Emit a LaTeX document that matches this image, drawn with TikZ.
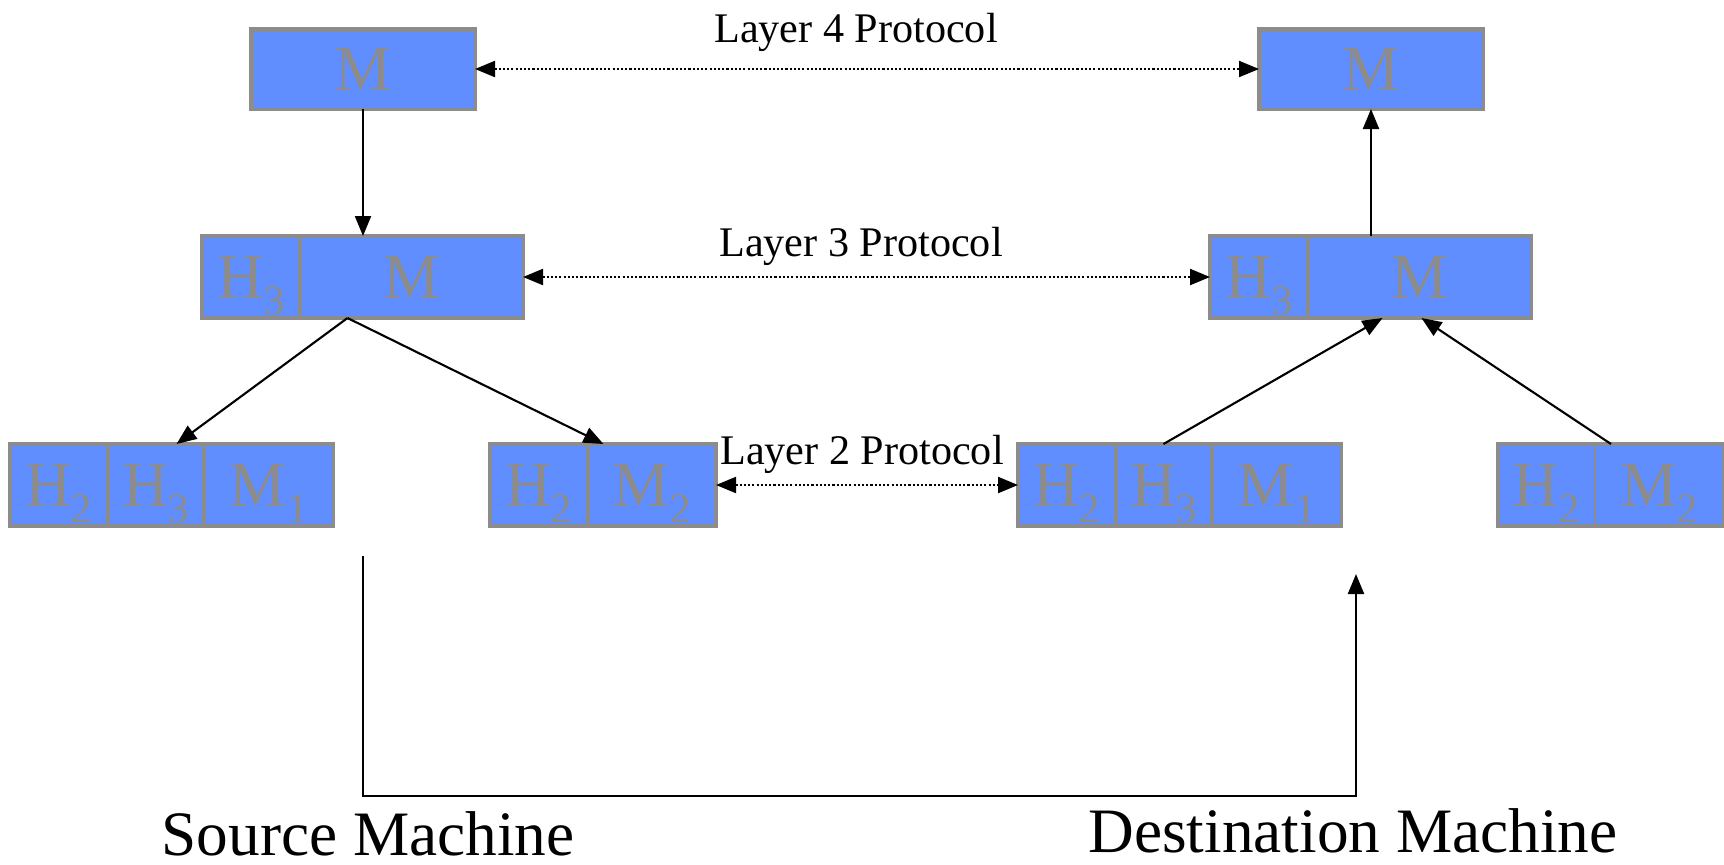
\documentclass[tikz,border=0pt]{standalone}
\usepackage{fontspec}
\setmainfont{Liberation Serif}
\usetikzlibrary{arrows.meta,positioning,calc}
\definecolor{pktblue}{RGB}{97,142,255}
\definecolor{pktgray}{RGB}{140,140,140}
\newcommand{\lsub}[1]{\smash{\raisebox{-4.8pt}{\fontsize{12}{12}\selectfont #1}}}

\begin{document}
\begin{tikzpicture}[
    x=0.1mm, y=-0.1mm,
    >={Triangle[length=2mm,width=1.6mm]},
    pkt/.style={draw=pktgray, fill=pktblue, line width=0.9pt, text=pktgray,
                font=\fontsize{18}{18}\selectfont, minimum height=8.2mm,
                inner sep=0pt, outer sep=0pt},
    hdr/.style={pkt, minimum width=9.7mm},
    msg/.style={pkt, minimum width=12.9mm},
    lbl/.style={font=\fontsize{12}{14}\selectfont},
    machine/.style={font=\fontsize{18}{20}\selectfont, anchor=base, inner sep=1pt},
    wire/.style={line width=0.6pt},
    proto/.style={<->, line width=0.6pt, dash pattern=on 0.6pt off 0.6pt},
  ]
  \useasboundingbox (0,0) rectangle (1724,864);

  % ---------------- layer 4
  \node[pkt, minimum width=22.4mm, minimum height=8.0mm] (m4s) at (363,69) {M};
  \node[pkt, minimum width=22.4mm, minimum height=8.0mm] (m4d) at (1371,69) {M};
  \node[lbl] (l4) at (856,32) {Layer 4 Protocol};
  \draw[proto] (m4s.east) -- (m4d.west);

  % ---------------- layer 3
  \node[hdr, minimum width=9.8mm] (h3s) at (251,277) {H\lsub{3}};
  \node[pkt, minimum width=22.3mm, right=0pt of h3s] (m3s) {M};
  \node[hdr, minimum width=9.8mm] (h3d) at (1259,277) {H\lsub{3}};
  \node[pkt, minimum width=22.3mm, right=0pt of h3d] (m3d) {M};
  \node[lbl] (l3) at (861,246) {Layer 3 Protocol};
  \draw[proto] (m3s.east) -- (h3d.west);

  % ---------------- layer 2, source side
  \node[hdr] (h2sa) at (58.5,485) {H\lsub{2}};
  \node[hdr, right=0pt of h2sa] (h3sa) {H\lsub{3}};
  \node[msg, right=0pt of h3sa] (m1sa) {M\lsub{1}};
  \node[hdr] (h2sb) at (538.5,485) {H\lsub{2}};
  \node[msg, right=0pt of h2sb] (m2sb) {M\lsub{2}};

  % ---------------- layer 2, destination side
  \node[hdr] (h2da) at (1066.5,485) {H\lsub{2}};
  \node[hdr, right=0pt of h2da] (h3da) {H\lsub{3}};
  \node[msg, right=0pt of h3da] (m1da) {M\lsub{1}};
  \node[hdr] (h2db) at (1546,485) {H\lsub{2}};
  \node[msg, right=0pt of h2db] (m2db) {M\lsub{2}};
  \node[lbl] (l2) at (862,454) {Layer 2 Protocol};
  \draw[proto] (m2sb.east) -- (h2da.west);

  % ---------------- down the source stack
  \draw[->,wire] (m4s.south) -- (m4s.south |- m3s.north);
  \coordinate (fork) at ($(m3s.south)+(-64,0)$);
  \draw[->,wire] (fork) -- ($(h3sa.north)+(21,0)$);
  \draw[->,wire] (fork) -- ($(m2sb.north)+(-48,0)$);

  % ---------------- up the destination stack
  \draw[->,wire] (h3da.north) -- ($(m3d.south)+(-37,0)$);
  \draw[->,wire] ($(m2db.north)+(-48,0)$) -- ($(m3d.south)+(2,0)$);
  \draw[->,wire] (m4d.south |- m3d.north) -- (m4d.south);

  % ---------------- physical medium
  \coordinate (wireout) at (363,556);
  \coordinate (wirein) at (1356,574);
  \draw[->,wire] (wireout) -- ++(0,240) -| (wirein);
  \node[machine] (src) at (368,855) {Source Machine};
  \node[machine] (dst) at (1353,852) {Destination Machine};
\end{tikzpicture}
\end{document}
